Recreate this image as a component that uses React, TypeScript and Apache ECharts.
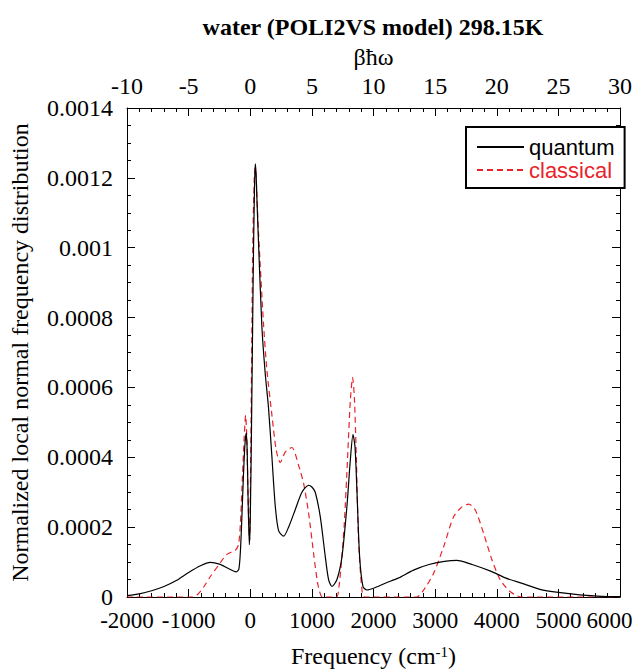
import React, { useEffect, useRef } from "react";
import * as echarts from "echarts";

// Frequency (cm^-1) and normalized distribution values
const quantumFreq = [
  -2000, -1800, -1600, -1400, -1200, -1000, -800, -650, -500, -350, -230, -185,
  -160, -140, -110, -85, -65, -50, -35, -15, 0, 20, 40, 55, 70, 82, 95, 110, 135,
  190, 243, 297, 352, 406, 460, 541, 622, 730, 839, 947, 1000, 1055, 1136, 1218,
  1271, 1326, 1407, 1488, 1569, 1623, 1667, 1700, 1732, 1775, 1829, 1894, 2000,
  2200, 2400, 2650, 2900, 3150, 3350, 3600, 3900, 4150, 4450, 4700, 5000, 5350,
  5700, 6000,
];
const quantumValue = [
  0.000004, 0.000009, 0.000018, 0.00003, 0.000047, 0.00007, 0.00009, 0.000099,
  0.000094, 0.000081, 0.000072, 0.00008, 0.00013, 0.00021, 0.00035, 0.00044,
  0.00047, 0.00042, 0.00028, 0.00015, 0.00022, 0.00048, 0.0008, 0.00102,
  0.00118, 0.00124, 0.00121, 0.00113, 0.00101, 0.00077, 0.00064, 0.00054,
  0.0004, 0.00026, 0.00019, 0.000174, 0.0002, 0.00025, 0.0003, 0.00032,
  0.000315, 0.0003, 0.00023, 0.000115, 0.00005, 0.00003, 0.00005, 0.000115,
  0.00026, 0.00039, 0.000465, 0.00043, 0.0003, 0.000115, 0.00003, 0.00002,
  0.000025, 0.00004, 0.000054, 0.000077, 0.000093, 0.000102, 0.000105,
  0.000093, 0.000074, 0.000054, 0.000037, 0.000022, 0.000013, 0.000006,
  0.000002, 0.000001,
];
const classicalFreq = [
  -2000, -1000, -950, -850, -750, -650, -514, -380, -243, -190, -160, -135, -100,
  -75, -55, -35, -12, 10, 40, 65, 80, 95, 135, 216, 270, 352, 422, 487, 568, 676,
  784, 866, 947, 1028, 1093, 1150, 1200, 1400, 1440, 1480, 1526, 1580, 1623,
  1661, 1690, 1721, 1758, 1813, 1860, 2700, 2814, 2976, 3138, 3300, 3436, 3544,
  3652, 3787, 3923, 4058, 4221, 4400, 6000,
];
const classicalValue = [
  0, 0, 0, 0.000008, 0.00003, 0.000058, 0.000091, 0.000122, 0.000134, 0.00015,
  0.00021, 0.00031, 0.00045, 0.00052, 0.00045, 0.00028, 0.00016, 0.00045, 0.001,
  0.0012, 0.00123, 0.0012, 0.00104, 0.00078, 0.00065, 0.00052, 0.00042,
  0.000385, 0.000415, 0.000428, 0.000377, 0.000325, 0.00024, 0.000125, 0.00004,
  0.000003, 0, 0, 0.00003, 0.0001, 0.00021, 0.0004, 0.00056, 0.000628, 0.00057,
  0.0004, 0.00016, 0.00002, 0, 0, 0.00002, 0.000068, 0.000144, 0.00023,
  0.000258, 0.000266, 0.000249, 0.000182, 0.000106, 0.000049, 0.000015, 0, 0,
];

const seriesNames = ["quantum", "classical"];
const FREQ_MAX = 6000;
const RED = "#e8232b";
const SERIF = "Liberation Serif";
const SANS = "Liberation Sans";

export default function App() {
  const ref = useRef<HTMLDivElement>(null);

  useEffect(() => {
    document.body.style.margin = "0";
    const chart = echarts.init(ref.current!, null, { renderer: "svg" });

    const baseAxis = {
      axisLine: { show: true, onZero: false, lineStyle: { color: "#000", width: 1 } },
      axisTick: { show: true, inside: true, length: 8, lineStyle: { color: "#000" } },
      minorTick: { show: true, length: 4, lineStyle: { color: "#000" } },
      splitLine: { show: false },
      axisLabel: {
        color: "#000",
        fontFamily: SERIF,
        fontSize: 24,
        lineHeight: 20,
        showMinLabel: true,
        showMaxLabel: true,
        hideOverlap: false,
        formatter: (v: number) => String(v),
      },
    };

    chart.setOption({
      animation: false,
      backgroundColor: "#fff",
      title: {
        text: "water (POLI2VS model) 298.15K",
        left: 373,
        top: 15,
        padding: 0,
        textAlign: "center",
        textStyle: { fontFamily: SERIF, fontSize: 24, fontWeight: "bold", color: "#000" },
      },
      grid: {
        left: 127,
        right: 13,
        top: 108,
        bottom: 72,
        containLabel: false,
        outerBoundsMode: "none",
      },
      legend: {
        data: [
          { name: seriesNames[0], textStyle: { color: "#000" } },
          { name: seriesNames[1], textStyle: { color: RED } },
        ],
        orient: "vertical",
        left: 466,
        top: 127,
        itemWidth: 47,
        itemHeight: 14,
        itemGap: 1,
        padding: [9, 10, 7, 10],
        borderColor: "#000",
        borderWidth: 2,
        borderRadius: 0,
        backgroundColor: "#fff",
        itemStyle: { color: "rgba(0,0,0,0)", borderWidth: 0, opacity: 0 },
        textStyle: { fontFamily: SANS, fontSize: 22 },
      },
      xAxis: [
        {
          ...baseAxis,
          type: "value",
          position: "bottom",
          min: -2000,
          max: FREQ_MAX,
          interval: 1000,
          minorTick: { ...baseAxis.minorTick, splitNumber: 5 },
          axisLabel: {
            ...baseAxis.axisLabel,
            fontSize: 23,
            margin: 13,
            // the last label is drawn below, pulled inside the picture like in the reference
            formatter: (v: number) => (v === FREQ_MAX ? "" : String(v)),
          },
          name: "{a|Frequency (cm}{s|-1}{a|)}",
          nameLocation: "middle",
          nameGap: 47,
          nameTextStyle: {
            rich: {
              a: { fontFamily: SERIF, fontSize: 24, lineHeight: 24, color: "#000" },
              s: { fontFamily: SERIF, fontSize: 15, lineHeight: 15, color: "#000", verticalAlign: "top" },
            },
          },
        },
        {
          ...baseAxis,
          type: "value",
          position: "top",
          min: -10,
          max: 30,
          interval: 5,
          minorTick: { ...baseAxis.minorTick, splitNumber: 5 },
          axisLabel: { ...baseAxis.axisLabel, margin: 12 },
          name: "βħω",
          nameLocation: "middle",
          nameGap: 38,
          nameTextStyle: { fontFamily: SERIF, fontSize: 24, color: "#000" },
        },
      ],
      yAxis: [
        {
          ...baseAxis,
          type: "value",
          position: "left",
          min: 0,
          max: 0.0014,
          interval: 0.0002,
          minorTick: { ...baseAxis.minorTick, splitNumber: 4 },
          axisLabel: {
            ...baseAxis.axisLabel,
            margin: 14,
            formatter: (v: number) => (v === 0 ? "0" : String(+v.toFixed(6))),
          },
          name: "Normalized local normal frequency distribution",
          nameLocation: "middle",
          nameRotate: 90,
          nameGap: 95,
          nameTextStyle: { fontFamily: SERIF, fontSize: 24, color: "#000" },
        },
        {
          ...baseAxis,
          type: "value",
          position: "right",
          min: 0,
          max: 0.0014,
          interval: 0.0002,
          minorTick: { ...baseAxis.minorTick, splitNumber: 4 },
          axisLabel: { show: false },
        },
      ],
      series: [
        {
          name: seriesNames[0],
          type: "line",
          xAxisIndex: 0,
          yAxisIndex: 0,
          showSymbol: false,
          symbol: "none",
          smooth: 0.25,
          lineStyle: { color: "#000", width: 1.2 },
          itemStyle: { color: "#000" },
          data: quantumFreq.map((f, i) => [f, quantumValue[i]]),
          z: 3,
        },
        {
          name: seriesNames[1],
          type: "line",
          xAxisIndex: 0,
          yAxisIndex: 0,
          showSymbol: false,
          symbol: "none",
          smooth: 0.25,
          lineStyle: { color: RED, width: 1.2, type: [6, 4] },
          itemStyle: { color: RED },
          data: classicalFreq.map((f, i) => [f, classicalValue[i]]),
          z: 2,
        },
      ],
    });

    // Place the last frequency tick label from the axis scale, kept inside the canvas
    const px = chart.convertToPixel({ xAxisIndex: 0 }, FREQ_MAX) as number;
    const py = chart.convertToPixel({ yAxisIndex: 0 }, 0) as number;
    const width = chart.getWidth();
    chart.setOption({
      graphic: [
        {
          type: "text",
          x: Math.min(px + 24, width - 0.5),
          y: py + 13 + 10,
          style: {
            text: String(FREQ_MAX),
            fontFamily: SERIF,
            fontSize: 23,
            fill: "#000",
            align: "right",
            verticalAlign: "middle",
          },
        },
      ],
    });

    return () => chart.dispose();
  }, []);

  return <div ref={ref} style={{ width: 633, height: 669 }} />;
}
